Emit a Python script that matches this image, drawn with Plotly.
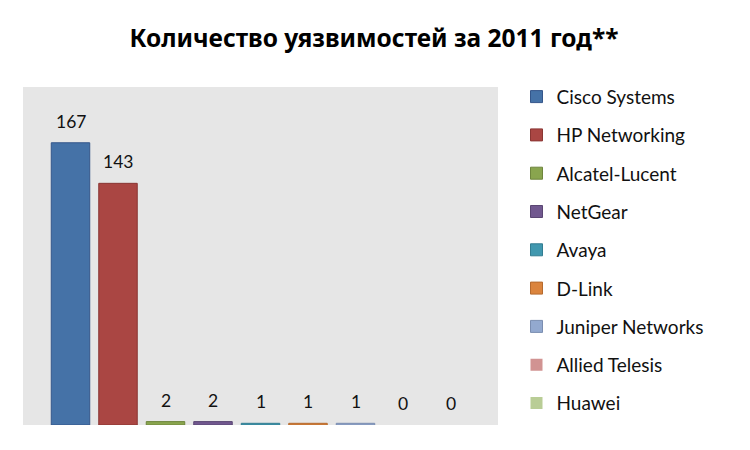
import plotly.graph_objects as go

vendors = ["Cisco Systems", "HP Networking", "Alcatel-Lucent", "NetGear", "Avaya",
           "D-Link", "Juniper Networks", "Allied Telesis", "Huawei"]
counts = [167, 143, 2, 2, 1, 1, 1, 0, 0]
fill_colors = ["#4572A7", "#AA4643", "#89A54E", "#71588F", "#4198AF",
               "#DB843D", "#93A9CF", "#D19392", "#B9CD96"]
line_colors = ["#34568A", "#8A3633", "#6E853D", "#5A4673", "#327D91",
               "#B56A2E", "#7A8DB0", "#AF7877", "#98AB7A"]

title_text = "Количество уязвимостей за 2011 год**"

fig = go.Figure()
for i, (v, c) in enumerate(zip(vendors, counts)):
    fig.add_trace(go.Bar(
        x=[v], y=[c], name=v,
        marker=dict(color=fill_colors[i],
                    line=dict(color=line_colors[i], width=1 if c > 0 else 0)),
        width=0.81, legendgroup=v,
    ))
    fig.add_annotation(x=v, y=c, text=str(c), showarrow=False, yanchor="bottom",
                       yshift=9, font=dict(size=17.5, color="#111111", family="Lato, Noto Sans"))

fig.update_layout(
    width=750, height=450,
    margin=dict(l=15, r=260, t=79, b=33, autoexpand=False),
    paper_bgcolor="white", plot_bgcolor="#E6E6E6",
    barmode="overlay",
    title=dict(text="<b>" + title_text + "</b>", x=0.488, xanchor="center", xref="container",
               y=0.933, yanchor="middle", yref="container",
               font=dict(size=24.5, color="black", family="Noto Sans")),
    xaxis=dict(range=[-1, 9], showticklabels=False, showgrid=False, zeroline=False,
               categoryorder="array", categoryarray=vendors, fixedrange=True),
    yaxis=dict(range=[0, 200], showticklabels=False, showgrid=False, zeroline=False),
    showlegend=True,
    legend=dict(x=0.678, xref="container", xanchor="left", y=0.845, yref="container",
                yanchor="top", traceorder="grouped",
                tracegroupgap=10.6, font=dict(size=19, color="#111111", family="Lato, Noto Sans"),
                bgcolor="rgba(0,0,0,0)", itemwidth=30, maxheight=1),
)

fig.write_html("out.html")
